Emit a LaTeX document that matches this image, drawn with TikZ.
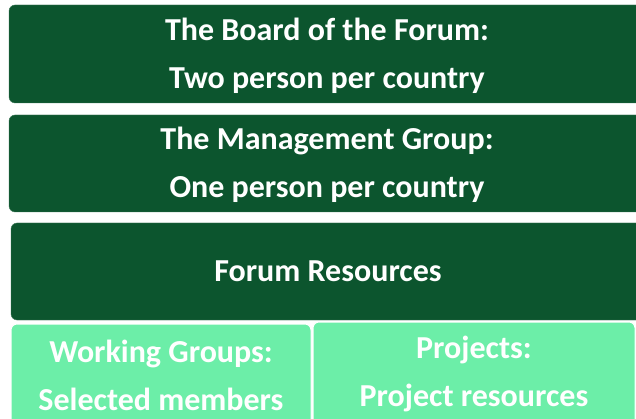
\documentclass[tikz,border=0pt]{standalone}
\usepackage{fontspec}
\setmainfont{Carlito}
\definecolor{boarddark}{RGB}{12,85,46}
\definecolor{grouplight}{RGB}{108,238,168}
\tikzset{
  darkbox/.style={draw=boarddark!80!white,fill=boarddark,rounded corners=6pt,inner sep=0pt},
  lightbox/.style={draw=white,line width=1pt,fill=grouplight,rounded corners=6pt,inner sep=0pt},
  boxtext/.style={text=white,font=\fontsize{32}{48}\selectfont\bfseries,align=center,inner sep=0pt}
}
\begin{document}
\begin{tikzpicture}[x=1pt,y=-1pt]
\clip (0,0) rectangle (636,419);
\fill[white] (0,0) rectangle (636,419);

% dark boxes
\node[darkbox,minimum width=636pt,minimum height=98pt] (board) at (327,54) {};
\node[darkbox,minimum width=636pt,minimum height=97pt] (mgmt) at (327,163.5) {};
\node[darkbox,minimum width=634pt,minimum height=97pt] (res) at (328,271.5) {};
% light boxes
\node[lightbox,minimum width=300pt,minimum height=102pt] (wg) at (161,375) {};
\node[lightbox,minimum width=322pt,minimum height=104pt] (proj) at (474,374) {};

\node[boxtext,yshift=-2pt] (boardtext) at (board.center) {The Board of the Forum:\\Two person per country};
\node[boxtext,yshift=-1pt] (mgmttext) at (mgmt.center) {The Management Group:\\One person per country};
\node[boxtext] (restext) at (res.center) {Forum Resources};
\node[boxtext] (wgtext) at (wg.center) {Working Groups:\\Selected members};
\node[boxtext] (projtext) at (proj.center) {Projects:\\Project resources};

\end{tikzpicture}
\end{document}
